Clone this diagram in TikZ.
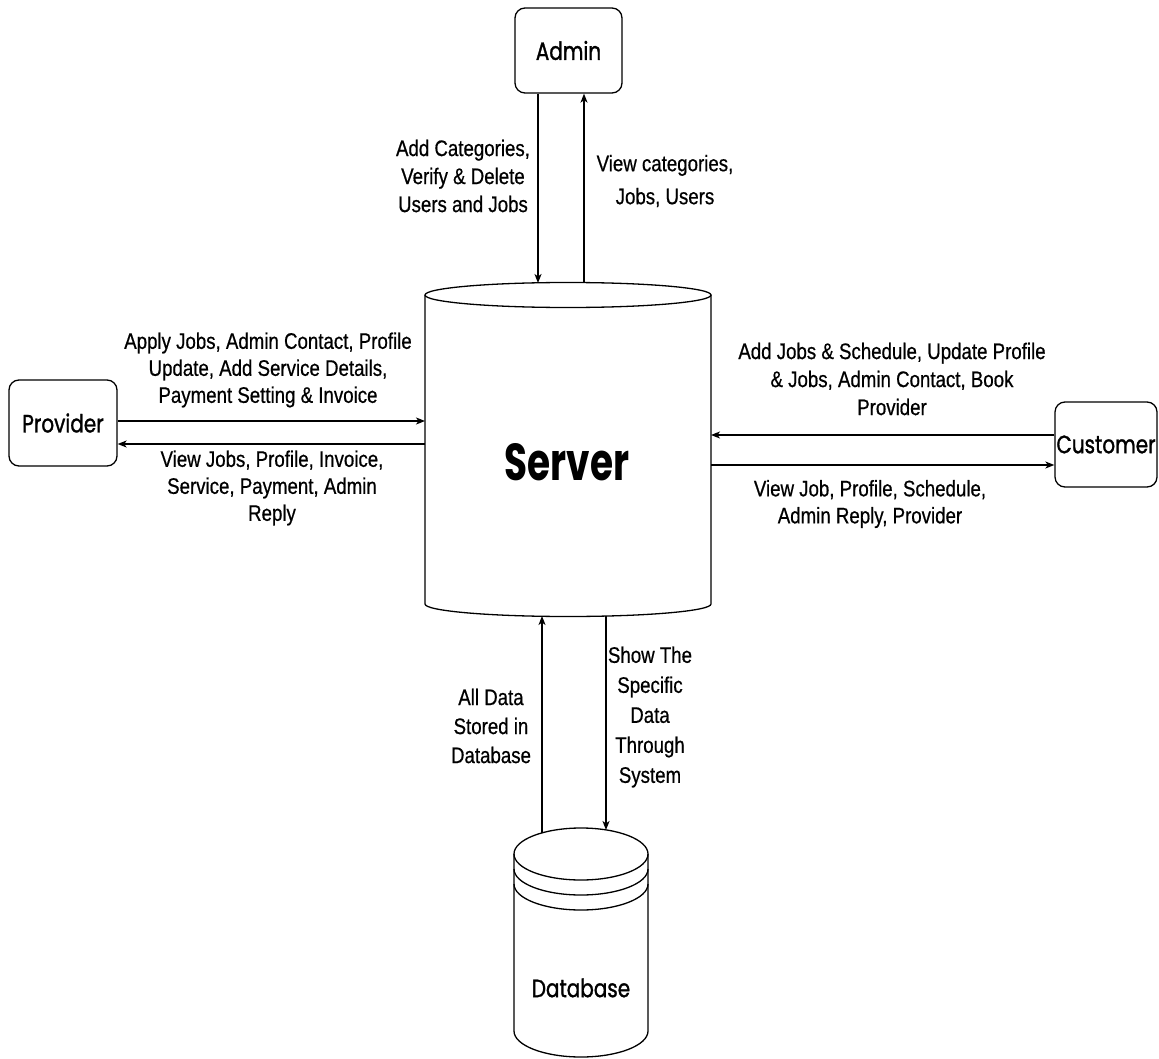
\documentclass[tikz,border=0pt]{standalone}
\usepackage{fontspec}
\setmainfont[FakeStretch=0.83,FakeBold=0.6]{Liberation Sans}
\newfontfamily\boxfont[FakeStretch=0.8,FakeBold=1.2]{Poppins}
\newfontfamily\srvfont[FakeStretch=0.72]{Poppins}
\usetikzlibrary{arrows.meta}
\begin{document}
\begin{tikzpicture}[x=1pt,y=-1pt,
  lbl/.style={align=center, inner sep=0pt},
  ent/.style={draw, rounded corners=10pt, line width=1.3pt, inner sep=0pt,
    font=\boxfont\fontsize{25}{30}\selectfont},
  arr/.style={-{Stealth[length=9pt,width=7pt,inset=2.5pt]}, line width=1.3pt},
  ln/.style={line width=1.3pt}]
\useasboundingbox (0,0) rectangle (1159,1059);
\fill[white] (0,0) rectangle (1159,1059);

% entity boxes
\node[ent, minimum width=107pt, minimum height=85pt] (admin) at (568.5,50.5) {Admin};
\node[ent, minimum width=108pt, minimum height=86pt] (provider) at (63,423) {Provider};
\node[ent, minimum width=102pt, minimum height=85pt] (customer) at (1106,444.5) {Customer};

% server cylinder
\draw[ln] (568,295) ellipse[x radius=143, y radius=12.5];
\draw[ln] (425,295) -- (425,604) arc[start angle=180, end angle=0, x radius=143, y radius=12.5] -- (711,295);
\node[font=\srvfont\bfseries\fontsize{52}{60}\selectfont, inner sep=0pt] (server) at (567,462) {Server};

% database cylinder
\draw[ln] (581,854) ellipse[x radius=67, y radius=26];
\draw[ln] (514,854) -- (514,1031) arc[start angle=180, end angle=0, x radius=67, y radius=26] -- (648,854);
\draw[ln] (514,869) arc[start angle=180, end angle=0, x radius=67, y radius=26];
\draw[ln] (514,884) arc[start angle=180, end angle=0, x radius=67, y radius=26];
\node[font=\boxfont\fontsize{25}{30}\selectfont, inner sep=0pt] (database) at (581,988) {Database};

% connector end points on the cylinders
\coordinate (sA1) at (538,283);
\coordinate (sA2) at (584,283);
\coordinate (sP1) at (425,421);
\coordinate (sP2) at (425,444);
\coordinate (sC1) at (711,435);
\coordinate (sC2) at (711,465);
\coordinate (sD1) at (542,616);
\coordinate (sD2) at (606,616);
\coordinate (dD1) at (542,833);
\coordinate (dD2) at (606,830);

% connectors
\draw[arr] (admin.south -| sA1) -- (sA1);
\draw[arr] (sA2) -- (admin.south -| sA2);
\draw[arr] (provider.east |- sP1) -- (sP1);
\draw[arr] (sP2) -- (provider.east |- sP2);
\draw[arr] (customer.west |- sC1) -- (sC1);
\draw[arr] (sC2) -- (customer.west |- sC2);
\draw[arr] (dD1) -- (sD1);
\draw[arr] (sD2) -- (dD2);

% labels
\node[lbl, font=\fontsize{22.5}{28}\selectfont] (t1) at (463,176) {Add Categories,\\Verify \& Delete\\Users and Jobs};
\node[lbl, font=\fontsize{22.5}{33}\selectfont] (t2) at (665,181) {View categories,\\Jobs, Users};
\node[lbl, font=\fontsize{22.5}{27}\selectfont] (t3) at (268,370) {Apply Jobs, Admin Contact, Profile\\Update, Add Service Details,\\Payment Setting \& Invoice};
\node[lbl, font=\fontsize{22.5}{27}\selectfont] (t4) at (272,488) {View Jobs, Profile, Invoice,\\Service, Payment, Admin\\Reply};
\node[lbl, font=\fontsize{22.5}{28}\selectfont] (t5) at (892,379) {Add Jobs \& Schedule, Update Profile\\\& Jobs, Admin Contact, Book\\Provider};
\node[lbl, font=\fontsize{22.5}{27}\selectfont] (t6) at (870,504) {View Job, Profile, Schedule,\\Admin Reply, Provider};
\node[lbl, font=\fontsize{22.5}{29}\selectfont] (t7) at (491,726) {All Data\\Stored in\\Database};
\node[lbl, font=\fontsize{22.5}{30}\selectfont] (t8) at (650,717) {Show The\\Specific\\Data\\Through\\System};
\end{tikzpicture}
\end{document}
